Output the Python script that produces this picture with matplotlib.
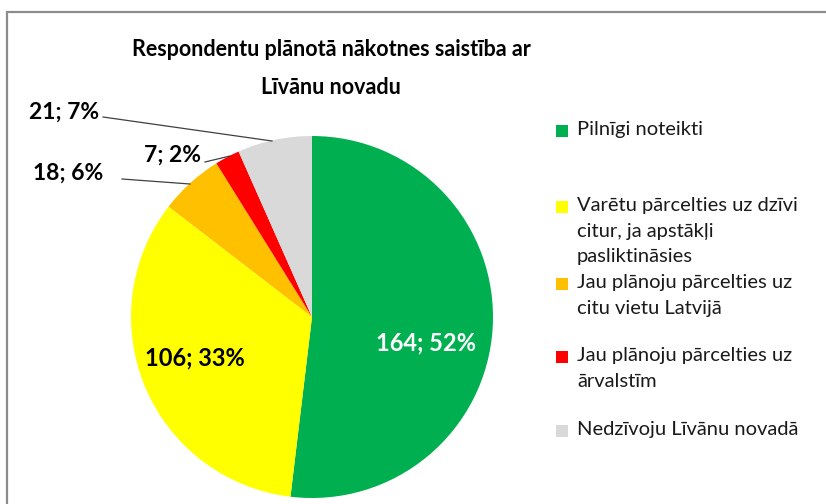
import numpy as np
import matplotlib.pyplot as plt
from matplotlib.patches import Rectangle

plt.rcParams['font.family'] = ['Lato', 'DejaVu Sans']

categories = ['Pilnīgi noteikti',
              'Varētu pārcelties uz dzīvi\ncitur, ja apstākļi\npasliktināsies',
              'Jau plānoju pārcelties uz\ncitu vietu Latvijā',
              'Jau plānoju pārcelties uz\nārvalstīm',
              'Nedzīvoju Līvānu novadā']
values = [164, 106, 18, 7, 21]
percents = [52, 33, 6, 2, 7]
colors = ['#00b050', '#ffff00', '#ffc000', '#ff0000', '#d9d9d9']

W, H = 826, 504
fig = plt.figure(figsize=(W / 100, H / 100), dpi=100)

# chart frame (cropped screenshot: only top and left visible)
fig.patches.append(Rectangle((7 / W, -0.1), 1.2, 1 + 0.1 - 12 / H,
                             transform=fig.transFigure, fill=False,
                             edgecolor='#8c8c8c', linewidth=1.6))

# pie axes placed in pixel terms
cx, cy, r = 312, H - 317, 181
ax = fig.add_axes([(cx - r) / W, (cy - r) / H, 2 * r / W, 2 * r / H])
wedges, _ = ax.pie(values, colors=colors, startangle=90, counterclock=False,
                   radius=1.0, wedgeprops=dict(linewidth=0))
ax.set_xlim(-1, 1)
ax.set_ylim(-1, 1)

def px(x, y):
    # pixel (from top-left) -> axes data coords
    return ((x - cx) / r, ((H - y) - cy) / r)

labels = [f'{v}; {p}%' for v, p in zip(values, percents)]

# inside labels
ax.text(*px(426, 343), labels[0], color='white', fontsize=17, fontweight='bold',
        ha='center', va='center')
ax.text(*px(195, 358), labels[1], color='black', fontsize=17, fontweight='bold',
        ha='center', va='center')

# outside labels with leader lines
outside = [(2, (68, 173), (190, 184), (122, 179)),
           (3, (173, 155), (230, 156), (205, 162)),
           (4, (64, 112), (272, 141), (103, 117))]
for i, tpos, tip, start in outside:
    ax.text(*px(*tpos), labels[i], color='black', fontsize=16.5, fontweight='bold',
            ha='center', va='center')
    x0, y0 = px(*start)
    x1, y1 = px(*tip)
    ax.plot([x0, x1], [y0, y1], color='#404040', linewidth=0.9, clip_on=False)

fig.text(331 / W, 1 - 50 / H, 'Respondentu plānotā nākotnes saistība ar',
         fontsize=15.5, fontweight='bold', ha='center', va='center')
fig.text(331 / W, 1 - 88 / H, 'Līvānu novadu',
         fontsize=15.5, fontweight='bold', ha='center', va='center')

# legend
leg_y = [131, 207, 284, 357, 431]
for c, lab, y in zip(colors, categories, leg_y):
    fig.patches.append(Rectangle((556 / W, 1 - (y + 6) / H), 12 / W, 12 / H,
                                 transform=fig.transFigure, facecolor=c,
                                 edgecolor='none'))
    fig.text(577 / W, 1 - (y - 10) / H, lab, fontsize=14.5, color='#1a1a1a',
             ha='left', va='top', linespacing=1.62)

fig.savefig('out.png', dpi=100)
